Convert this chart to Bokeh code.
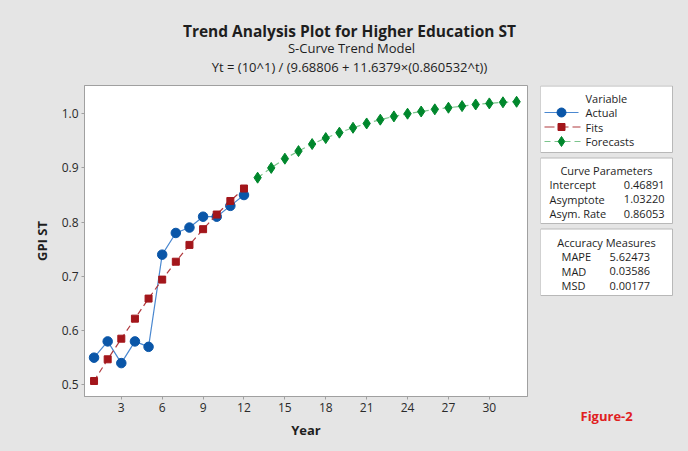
from bokeh.plotting import figure
from bokeh.layouts import column, row
from bokeh.models import Range1d, FixedTicker, CustomJSTickFormatter, Title
from bokeh.core.properties import value
from bokeh.embed import file_html
from bokeh.resources import INLINE

# ---- data ----
years_actual = [1, 2, 3, 4, 5, 6, 7, 8, 9, 10, 11, 12]
actual = [0.55, 0.58, 0.54, 0.58, 0.57, 0.74, 0.78, 0.79, 0.81, 0.81, 0.83, 0.85]
fits = [0.507, 0.547, 0.585, 0.622, 0.659, 0.694, 0.727, 0.758, 0.787, 0.814, 0.839, 0.862]
years_fc = [13, 14, 15, 16, 17, 18, 19, 20, 21, 22, 23, 24, 25, 26, 27, 28, 29, 30, 31, 32]
forecasts = [0.882, 0.900, 0.917, 0.931, 0.944, 0.955, 0.965, 0.974, 0.982, 0.989,
             0.995, 1.000, 1.004, 1.008, 1.011, 1.014, 1.017, 1.019, 1.021, 1.022]
x_ticks = [3, 6, 9, 12, 15, 18, 21, 24, 27, 30]
y_ticks = [0.5, 0.6, 0.7, 0.8, 0.9, 1.0]
series_names = ["Actual", "Fits", "Forecasts"]
param_names = ["Intercept", "Asymptote", "Asym. Rate"]
param_values = ["0.46891", "1.03220", "0.86053"]
acc_names = ["MAPE", "MAD", "MSD"]
acc_values = ["5.62473", "0.03586", "0.00177"]
title_text = "Trend Analysis Plot for Higher Education ST"
subtitle_text = "S-Curve Trend Model"
formula_text = "Yt = (10^1) / (9.68806 + 11.6379\u00d7(0.860532^t))"

FONT = "Open Sans"
BG = "#e5e5e5"
BLUE = "#0a56a8"
BLUE_LINE = "#4a88d0"
RED = "#a3161b"
RED_LINE = "#b03a3e"
GREEN = "#00872c"
GREEN_LINE = "#7cc48c"
TXT = "#1e1e1e"


def blank(width, height, x0, x1, y0, y1, bottom=0):
    f = figure(width=width, height=height, output_backend="svg", toolbar_location=None,
               x_range=Range1d(x0, x1), y_range=Range1d(y1, y0),
               x_axis_location=None, y_axis_location=None, min_border=0,
               min_border_bottom=bottom,
               background_fill_color=BG, border_fill_color=BG)
    f.outline_line_color = None
    f.grid.visible = False
    return f


def txt(f, x, y, t, size="11px", bold=False, color=TXT, align="left"):
    f.text(x=[x], y=[y], text=[t], text_font=value(FONT), text_font_size=size,
           text_font_style="bold" if bold else "normal", text_color=color,
           text_align=align, text_baseline="middle")


# ---- top: titles (page coordinates 0..688 x 0..85) ----
top = blank(688, 85, 0, 688, 0, 85)
txt(top, 349, 30, title_text, size="15.5px", bold=True, align="center")
txt(top, 351, 47, subtitle_text, size="13px", align="center")
txt(top, 349, 66, formula_text, size="13px", align="center")

# ---- main plot ----
p = figure(width=540, height=366, output_backend="svg", toolbar_location=None,
           x_range=Range1d(0.3, 32.8), y_range=Range1d(0.4784, 1.052),
           min_border_left=84, min_border_right=13, min_border_top=0, min_border_bottom=55,
           background_fill_color="white", border_fill_color=BG)
p.outline_line_color = "#a0a0a0"
p.grid.visible = False
for ax in (p.xaxis, p.yaxis):
    ax.axis_line_color = "#a0a0a0"
    ax.major_tick_line_color = "#a0a0a0"
    ax.major_tick_in = 0
    ax.major_tick_out = 3
    ax.minor_tick_line_color = None
    ax.major_label_text_font = FONT
    ax.major_label_text_font_size = "12px"
    ax.major_label_text_color = "#2a2a2a"
    ax.axis_label_text_font = FONT
    ax.axis_label_text_font_size = "13px"
    ax.axis_label_text_font_style = "bold"
    ax.axis_label_text_color = TXT
p.xaxis.ticker = FixedTicker(ticks=x_ticks)
p.yaxis.ticker = FixedTicker(ticks=y_ticks)
p.yaxis.formatter = CustomJSTickFormatter(code="return tick.toFixed(1)")
p.xaxis.major_label_standoff = 3
p.yaxis.major_label_standoff = 3
p.xaxis.axis_label = "Year"
p.yaxis.axis_label = "GPI ST"
p.xaxis.axis_label_standoff = 6
p.yaxis.axis_label_standoff = 8

p.line(years_actual, actual, color=BLUE_LINE, line_width=1.2)
p.scatter(years_actual, actual, marker="circle", size=9.5, color=BLUE)
p.line(years_actual, fits, color=RED_LINE, line_width=1.2, line_dash="6 4")
p.scatter(years_actual, fits, marker="square", size=7, color=RED)
p.line(years_fc, forecasts, color=GREEN_LINE, line_width=1.2, line_dash="6 4")
p.scatter(years_fc, forecasts, marker="diamond", size=11, color=GREEN)

# ---- side panel: frame covers page x 540..688, page y 85..396 ----
s = blank(148, 366, 540, 688, 85, 396, bottom=55)
s.quad(left=[540, 540, 540], right=[672, 672, 672], top=[85.5, 157.5, 228.5],
       bottom=[152, 223, 295], fill_color="white", line_color="#b8b8b8", line_width=1)

txt(s, 585, 98, "Variable")
row_y = [112, 126.5, 141]
for yy, name in zip(row_y, series_names):
    txt(s, 585, yy, name)
# legend samples
s.line([544, 578], [row_y[0], row_y[0]], color=BLUE_LINE, line_width=1.2)
s.scatter([561], [row_y[0]], marker="circle", size=9, color=BLUE)
s.line([544, 580], [row_y[1], row_y[1]], color=RED_LINE, line_width=1.2, line_dash="10 4")
s.scatter([561], [row_y[1]], marker="square", size=7, color=RED)
s.line([544, 580], [row_y[2], row_y[2]], color=GREEN_LINE, line_width=1.2, line_dash="6 4")
s.scatter([561], [row_y[2]], marker="diamond", size=10, color=GREEN)

txt(s, 606, 170, "Curve Parameters", align="center")
for i, (n, v) in enumerate(zip(param_names, param_values)):
    yy = 184 + i * 14.5
    txt(s, 549, yy, n)
    txt(s, 664, yy, v, align="right")

txt(s, 606, 242, "Accuracy Measures", align="center")
for i, (n, v) in enumerate(zip(acc_names, acc_values)):
    yy = 256 + i * 14.5
    txt(s, 561, yy, n)
    txt(s, 609, yy, v)

fig_lab = Title(text="Figure-2", align="left", offset=40, text_font=FONT,
                text_font_size="13px", text_font_style="bold", text_color="#e0201f",
                standoff=16)
s.add_layout(fig_lab, "below")

inner = row(p, s, spacing=0, styles={"background-color": BG})
layout = column(top, inner, spacing=0, styles={"background-color": BG})
open("out.html", "w").write(file_html(layout, INLINE))
